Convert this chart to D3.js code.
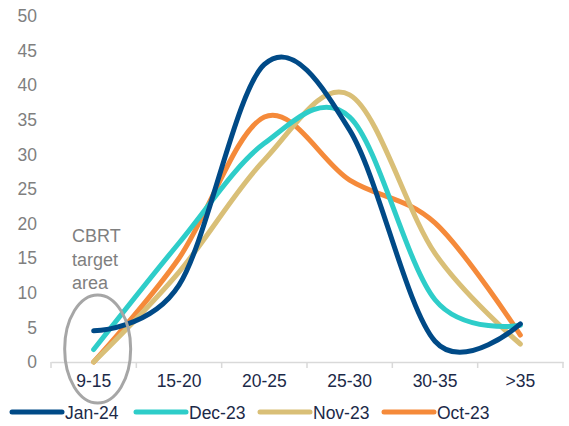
<!DOCTYPE html>
<html>
<head>
<meta charset="utf-8">
<script src="https://cdn.jsdelivr.net/npm/d3@7"></script>
<style>
  body { margin: 0; background: #fff; }
  svg { font-family: "Liberation Sans", Arial, sans-serif; }
</style>
</head>
<body>
<div id="chart"></div>
<script>
// Rate buckets (%) and share of respondents for each survey
const categories = ['9-15', '15-20', '20-25', '25-30', '30-35', '>35'];
const jan24 = [4.5, 11.1, 43, 33.5, 3, 5.5];
const dec23 = [1.8, 17.2, 31.6, 35.4, 9.0, 5.3];
const nov23 = [0, 13, 29.2, 38.6, 15.7, 2.6];
const oct23 = [0, 15, 35.4, 26.3, 20.1, 3.9];
const yTicks = [0, 5, 10, 15, 20, 25, 30, 35, 40, 45, 50];

const series = [
    { name: 'Jan-24', values: jan24, color: '#004a87' },
    { name: 'Dec-23', values: dec23, color: '#2ecdc9' },
    { name: 'Nov-23', values: nov23, color: '#d9bf77' },
    { name: 'Oct-23', values: oct23, color: '#f58a3a' }
];

const width = 569;
const height = 426;

const svg = d3.select('#chart')
    .append('svg')
    .attr('width', width)
    .attr('height', height);

const x = d3.scaleBand().domain(categories).range([51, 563]);
const y = d3.scaleLinear().domain([0, 50]).range([362, 16]);

// y axis labels only
const yAxis = svg.append('g')
    .attr('transform', 'translate(37,0)')
    .call(d3.axisLeft(y).tickValues(yTicks).tickSize(0).tickPadding(0));
yAxis.select('.domain').remove();
yAxis.selectAll('text')
    .attr('font-size', 17.5)
    .attr('fill', '#7f7f7f')
    .attr('font-family', '"Liberation Sans", Arial, sans-serif');

// x axis: labels at band centres, ticks at band edges
const xAxis = svg.append('g')
    .attr('transform', 'translate(0,362)')
    .call(d3.axisBottom(x).tickSize(0).tickPadding(13));
xAxis.select('.domain')
    .attr('stroke', '#d9d9d9')
    .attr('stroke-width', 1.5);
xAxis.selectAll('text')
    .attr('font-size', 17.5)
    .attr('fill', '#1c2a48')
    .attr('font-family', '"Liberation Sans", Arial, sans-serif');

const edges = categories.map(c => x(c)).concat([x.range()[1]]);
xAxis.selectAll('line.edge')
    .data(edges)
    .enter().append('line')
    .attr('class', 'edge')
    .attr('x1', d => d).attr('x2', d => d)
    .attr('y1', 0).attr('y2', 6)
    .attr('stroke', '#d9d9d9')
    .attr('stroke-width', 1.5);

// lines (drawn oldest first so Jan-24 sits on top)
const line = d3.line()
    .x((d, i) => x(categories[i]) + x.bandwidth() / 2)
    .y(d => y(d))
    .curve(d3.curveCardinal.tension(0));

svg.append('g')
    .selectAll('path')
    .data(series.slice().reverse())
    .enter().append('path')
    .attr('d', d => line(d.values))
    .attr('fill', 'none')
    .attr('stroke', d => d.color)
    .attr('stroke-width', 5)
    .attr('stroke-linecap', 'round');

// CBRT target area note
const note = svg.append('text')
    .attr('x', 72)
    .attr('y', 242)
    .attr('font-size', 18)
    .attr('fill', '#7f7f7f');
['CBRT', 'target', 'area'].forEach((t, i) => {
    note.append('tspan').attr('x', 72).attr('dy', i === 0 ? 0 : 23.5).text(t);
});

svg.append('ellipse')
    .attr('cx', x('9-15') + x.bandwidth() / 2 + 4)
    .attr('cy', 349)
    .attr('rx', 33)
    .attr('ry', 54)
    .attr('fill', 'none')
    .attr('stroke', '#a6a6a6')
    .attr('stroke-width', 3);

// legend
const legend = svg.append('g')
    .selectAll('g')
    .data(series)
    .enter().append('g')
    .attr('transform', (d, i) => `translate(${12 + i * 124},412)`);

legend.append('line')
    .attr('x1', 0).attr('x2', 50)
    .attr('y1', 0).attr('y2', 0)
    .attr('stroke', d => d.color)
    .attr('stroke-width', 5)
    .attr('stroke-linecap', 'round');

legend.append('text')
    .attr('x', 53)
    .attr('y', 7)
    .attr('font-size', 17.5)
    .attr('fill', '#1c2a48')
    .text(d => d.name);
</script>
</body>
</html>
